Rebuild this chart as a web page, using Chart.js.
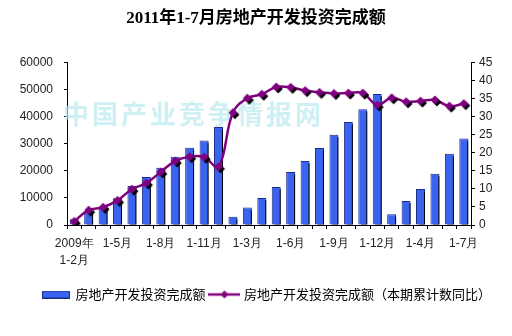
<!DOCTYPE html>
<html>
<head>
<meta charset="utf-8">
<script src="https://cdn.jsdelivr.net/npm/chart.js@4"></script>
<style>
  body { margin: 0; background: #fff; }
</style>
</head>
<body>
<canvas id="myChart" width="512" height="336"></canvas>
<script>
// months (cumulative periods), 2009-02 .. 2011-07
const periods = [
	"2009年1-2月", "1-3月", "1-4月", "1-5月", "1-6月", "1-7月", "1-8月", "1-9月", "1-10月", "1-11月", "1-12月",
	"2010年1-2月", "1-3月", "1-4月", "1-5月", "1-6月", "1-7月", "1-8月", "1-9月", "1-10月", "1-11月", "1-12月",
	"2011年1-2月", "1-3月", "1-4月", "1-5月", "1-6月", "1-7月",
];
// shown tick labels (every third period)
const tickLabels = {
	0: ["2009年", "1-2月"], 3: "1-5月", 6: "1-8月", 9: "1-11月", 12: "1-3月",
	15: "1-6月", 18: "1-9月", 21: "1-12月", 24: "1-4月", 27: "1-7月",
};
const investment = [
	2100, 5000, 6400, 9900, 14400, 17700, 21100, 25200, 28500, 31200, 36200,
	3000, 6500, 10000, 14000, 19600, 23600, 28400, 33300, 38000, 42700, 48300,
	4000, 8900, 13300, 18900, 26300, 31900,
];
const growth = [
	1.0, 4.1, 4.9, 6.8, 9.9, 11.6, 14.7, 17.7, 18.9, 18.8, 16.1,
	31.1, 35.1, 36.2, 38.2, 38.1, 37.2, 36.7, 36.4, 36.5, 36.5, 33.2,
	35.2, 34.1, 34.3, 34.6, 32.9, 33.6,
];

const PURPLE = "#800080";
const BLUE = "#3a64f0";

const diamond = (ctx, cx, cy, r, color) => {
	ctx.fillStyle = color;
	ctx.beginPath();
	ctx.moveTo(cx, cy - r);
	ctx.lineTo(cx + r, cy);
	ctx.lineTo(cx, cy + r);
	ctx.lineTo(cx - r, cy);
	ctx.closePath();
	ctx.fill();
};

// diamond marker with black drop shadow
const makeMarker = () => {
	const c = document.createElement("canvas");
	c.width = 16;
	c.height = 16;
	const ctx = c.getContext("2d");
	diamond(ctx, 10, 10, 4.5, "#000");
	diamond(ctx, 8, 8, 4.5, PURPLE);
	return c;
};

const makeLineLegend = () => {
	const c = document.createElement("canvas");
	c.width = 32;
	c.height = 12;
	const ctx = c.getContext("2d");
	ctx.strokeStyle = PURPLE;
	ctx.lineWidth = 2.5;
	ctx.beginPath();
	ctx.moveTo(0, 6);
	ctx.lineTo(32, 6);
	ctx.stroke();
	diamond(ctx, 16, 6, 4, PURPLE);
	return c;
};

const makeBarLegend = () => {
	const c = document.createElement("canvas");
	c.width = 28;
	c.height = 8;
	const ctx = c.getContext("2d");
	ctx.fillStyle = "#1c2a8a";
	ctx.fillRect(0, 0, 28, 8);
	ctx.fillStyle = BLUE;
	ctx.fillRect(1, 1, 26, 6);
	return c;
};

const watermark = {
	id: "watermark",
	beforeDatasetsDraw(chart) {
		const ctx = chart.ctx;
		ctx.save();
		ctx.fillStyle = "rgba(185,232,238,0.7)";
		ctx.font = "bold 26px 'Noto Sans CJK SC'";
		ctx.textBaseline = "middle";
		const text = "中国产业竞争情报网";
		let x = 63;
		for (const ch of text) {
			ctx.fillText(ch, x, 114);
			x += 29;
		}
		ctx.restore();
	},
};

// nudge the legend a little to the right, as in the original
const legendShift = {
	id: "legendShift",
	afterLayout(chart) {
		chart.legend.left += 11;
		chart.legend.right += 11;
	},
};

const barShadow = {
	id: "barShadow",
	beforeDatasetDraw(chart, args) {
		if (args.meta.type !== "bar") return;
		const ctx = chart.ctx;
		ctx.save();
		ctx.shadowColor = "#000";
		ctx.shadowBlur = 0;
		ctx.shadowOffsetX = 2.5;
		ctx.shadowOffsetY = 2;
	},
	afterDatasetDraw(chart, args) {
		if (args.meta.type !== "bar") return;
		chart.ctx.restore();
	},
};

const tickFont = { family: "'Liberation Sans', Arial", size: 12 };

const chart = new Chart(document.getElementById("myChart"), {
	data: {
		labels: periods,
		datasets: [
			{
				type: "line",
				label: "房地产开发投资完成额（本期累计数同比）",
				data: growth,
				yAxisID: "y1",
				borderColor: PURPLE,
				borderWidth: 2.5,
				tension: 0.4,
				pointStyle: makeMarker(),
				pointRadius: 5,
			},
			{
				type: "bar",
				label: "房地产开发投资完成额",
				data: investment,
				yAxisID: "y",
				backgroundColor: BLUE,
				borderColor: "#1c2a8a",
				borderWidth: 1,
				barPercentage: 0.62,
				categoryPercentage: 1,
			},
		],
	},
	options: {
		responsive: false,
		animation: false,
		layout: { padding: { top: 4, bottom: 25, left: 0, right: 0 } },
		plugins: {
			title: {
				display: true,
				text: "2011年1-7月房地产开发投资完成额",
				color: "#000",
				font: { family: "'Liberation Serif', 'Noto Sans CJK SC'", size: 17, weight: "bold" },
				padding: { top: 4, bottom: 34 },
			},
			legend: {
				position: "bottom",
				reverse: true,
				labels: {
					usePointStyle: true,
					pointStyleWidth: 26,
					color: "#000",
					font: { family: "'Noto Sans CJK SC'", size: 13 },
					padding: 6,
					generateLabels: (ch) =>
						ch.data.datasets.map((ds, i) => ({
							text: ds.label,
							datasetIndex: i,
							pointStyle: ds.type === "line" ? makeLineLegend() : makeBarLegend(),
							fontColor: "#000",
							lineWidth: 0,
						})),
				},
			},
			tooltip: { enabled: false },
		},
		scales: {
			x: {
				offset: true,
				afterFit: (s) => { s.height = 57; },
				border: { color: "#000" },
				grid: { drawOnChartArea: false, tickLength: 4, color: "#000", offset: true },
				ticks: {
					autoSkip: false,
					maxRotation: 0,
					padding: 6,
					color: "#222",
					font: { ...tickFont, lineHeight: 1.4 },
					callback: (v, i) => tickLabels[i] || "",
				},
			},
			y: {
				position: "left",
				min: 0,
				max: 60000,
				afterFit: (s) => { s.width = 67; },
				border: { color: "#000" },
				grid: { drawOnChartArea: false, tickLength: 3, color: "#000" },
				ticks: {
					stepSize: 10000,
					color: "#222",
					font: tickFont,
					padding: 11,
					callback: (v) => String(v),
				},
			},
			y1: {
				position: "right",
				min: 0,
				max: 45,
				afterFit: (s) => { s.width = 41; },
				border: { color: "#000" },
				grid: { drawOnChartArea: false, tickLength: 4, color: "#000" },
				ticks: { stepSize: 5, color: "#222", font: tickFont, padding: 4 },
			},
		},
	},
	plugins: [watermark, barShadow, legendShift],
});
</script>
</body>
</html>
